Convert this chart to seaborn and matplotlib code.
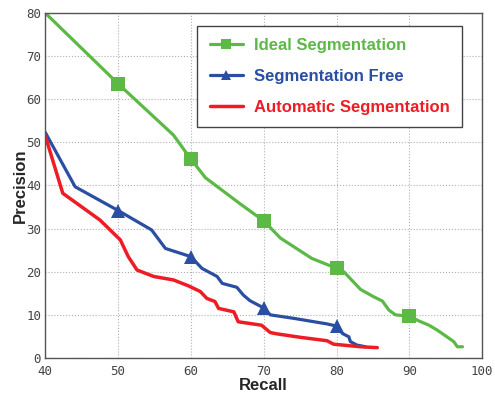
import numpy as np
import pandas as pd
import matplotlib
matplotlib.use("Agg")
import matplotlib.pyplot as plt
import seaborn as sns

# ---- data ----
ideal_recall = [40.0, 50.0, 57.6, 60.0, 62.0, 66.8, 70.0, 72.3, 76.6, 80.0, 81.0, 83.3,
                85.1, 86.3, 87.2, 88.1, 90.0, 91.3, 92.7, 93.8, 95.0, 96.1, 96.6, 97.3]
ideal_precision = [80.0, 63.6, 51.7, 46.1, 41.8, 35.7, 31.8, 27.8, 23.1, 20.8, 20.0, 15.9,
                   14.2, 13.2, 11.1, 10.0, 9.7, 8.6, 7.6, 6.5, 5.1, 3.8, 2.6, 2.6]

free_recall = [40.0, 44.1, 50.0, 54.6, 56.5, 60.0, 61.5, 63.6, 64.3, 66.3, 67.2, 68.1,
               70.0, 70.9, 74.1, 78.7, 80.0, 80.8, 81.7, 81.9, 82.8, 84.0]
free_precision = [52.3, 39.7, 34.2, 29.7, 25.4, 23.5, 20.8, 18.9, 17.3, 16.4, 14.6, 13.3,
                  11.6, 10.0, 9.2, 7.9, 7.4, 5.7, 4.9, 3.8, 3.0, 2.6]

auto_recall = [40.0, 42.4, 47.5, 50.3, 51.4, 52.6, 54.9, 57.6, 59.7, 61.3, 62.2, 63.3,
               63.8, 65.9, 66.5, 69.7, 70.9, 71.8, 75.0, 78.7, 79.6, 83.3, 85.6]
auto_precision = [51.5, 38.2, 32.0, 27.4, 23.5, 20.4, 18.9, 18.1, 16.7, 15.4, 13.8, 13.1,
                  11.5, 10.7, 8.4, 7.6, 5.9, 5.6, 4.8, 4.0, 3.2, 2.6, 2.4]

ideal_marker_recall = [50, 60, 70, 80, 90]
free_marker_recall = [50, 60, 70, 80]

series_names = ["Ideal Segmentation", "Segmentation Free", "Automatic Segmentation"]
x_ticks = [40, 50, 60, 70, 80, 90, 100]
y_ticks = [0, 10, 20, 30, 40, 50, 60, 70, 80]

colors = ["#5cb946", "#2a4ea2", "#ee1c25"]

sns.set_style("whitegrid", {
    "grid.linestyle": ":",
    "grid.color": "#b0b0b0",
    "axes.edgecolor": "#555555",
})

fig = plt.figure(figsize=(4.95, 3.94), dpi=100)
ax = fig.add_axes([0.0915, 0.0914, 0.8825, 0.8756])


def mark_idx(xs, marks):
    xs = np.asarray(xs)
    return [int(np.argmin(np.abs(xs - m))) for m in marks]


df_ideal = pd.DataFrame({"Recall": ideal_recall, "Precision": ideal_precision})
df_free = pd.DataFrame({"Recall": free_recall, "Precision": free_precision})
df_auto = pd.DataFrame({"Recall": auto_recall, "Precision": auto_precision})

sns.lineplot(data=df_ideal, x="Recall", y="Precision", ax=ax, sort=False,
             color=colors[0], lw=2.3, marker="s", markersize=10.5,
             markeredgewidth=0, markevery=mark_idx(ideal_recall, ideal_marker_recall),
             label=series_names[0])
sns.lineplot(data=df_free, x="Recall", y="Precision", ax=ax, sort=False,
             color=colors[1], lw=2.3, marker="^", markersize=10.5,
             markeredgewidth=0, markevery=mark_idx(free_recall, free_marker_recall),
             label=series_names[1])
sns.lineplot(data=df_auto, x="Recall", y="Precision", ax=ax, sort=False,
             color=colors[2], lw=2.5, label=series_names[2])

ax.set_xlim(40, 100)
ax.set_ylim(0, 80)
ax.set_xticks(x_ticks)
ax.set_yticks(y_ticks)
ax.tick_params(axis="y", length=0, pad=3)
ax.tick_params(axis="x", length=0, pad=5)
for lab in ax.get_xticklabels() + ax.get_yticklabels():
    lab.set_fontfamily("DejaVu Sans Mono")
    lab.set_fontsize(9)
    lab.set_color("#444444")

ax.set_xlabel("Recall", fontsize=12, fontweight="bold", family="Liberation Sans", labelpad=0)
ax.set_ylabel("Precision", fontsize=12, fontweight="bold", family="Liberation Sans", labelpad=-1)
for s in ax.spines.values():
    s.set_linewidth(1.0)
    s.set_color("#555555")

leg = ax.legend(loc="upper left", bbox_to_anchor=(0.348, 0.963), borderaxespad=0,
                frameon=True, fancybox=False, framealpha=1, edgecolor="#444444",
                prop={"family": "Liberation Sans", "weight": "bold", "size": 12},
                handlelength=2.0, handletextpad=0.65, labelspacing=0.95,
                borderpad=0.75, markerscale=0.75)
leg.get_frame().set_linewidth(1.0)
for txt, c in zip(leg.get_texts(), colors):
    txt.set_color(c)

fig.savefig("out.png", dpi=100)
